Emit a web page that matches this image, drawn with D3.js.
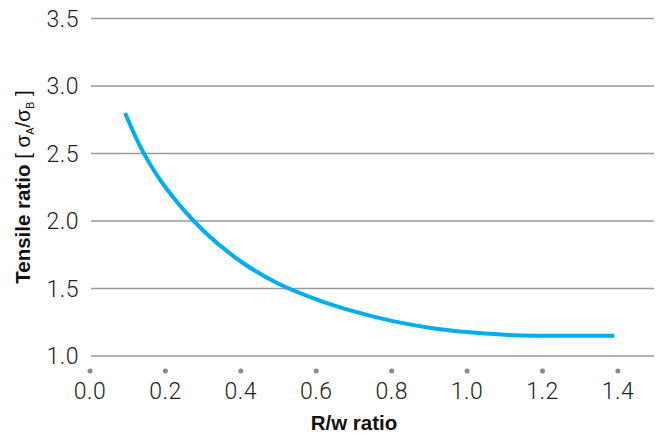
<!DOCTYPE html>
<html>
<head>
<meta charset="utf-8">
<script src="https://cdn.jsdelivr.net/npm/d3@7"></script>
<style>
  html, body { margin: 0; padding: 0; background: #fff; }
  svg { display: block; }
</style>
</head>
<body>
<script>
const xValues = [0.093, 0.141, 0.2, 0.3, 0.4, 0.5, 0.6, 0.7, 0.8, 0.9, 1.0, 1.1, 1.15, 1.2, 1.3, 1.39];
const yValues = [2.80, 2.51, 2.25, 1.93, 1.70, 1.535, 1.42, 1.33, 1.26, 1.21, 1.177, 1.157, 1.152, 1.15, 1.15, 1.15];
const xTicks = [0.0, 0.2, 0.4, 0.6, 0.8, 1.0, 1.2, 1.4];
const yTicks = [1.0, 1.5, 2.0, 2.5, 3.0, 3.5];
const xTitle = "R/w ratio";

const W = 663, H = 434;
const svg = d3.select("body").append("svg").attr("width", W).attr("height", H);

const x = d3.scaleLinear().domain([0, 1.5]).range([90, 655.6]);
const y = d3.scaleLinear().domain([1.0, 3.5]).range([356, 18.5]);

// gridlines
svg.append("g").selectAll("line").data(yTicks).join("line")
  .attr("x1", x(0) + 1).attr("x2", 654)
  .attr("y1", d => y(d)).attr("y2", d => y(d))
  .attr("stroke", "#9a9a9a").attr("stroke-width", 1.5);

// y tick labels
svg.append("g").selectAll("text").data(yTicks).join("text")
  .attr("x", 79).attr("y", d => y(d))
  .attr("dy", "0.36em")
  .attr("text-anchor", "end")
  .attr("font-family", "Roboto, 'Liberation Sans', sans-serif")
  .attr("font-weight", 300)
  .attr("font-size", 23)
  .attr("letter-spacing", 0.5)
  .attr("fill", "#222")
  .text(d => d.toFixed(1));

// x tick dots
svg.append("g").selectAll("circle").data(xTicks).join("circle")
  .attr("cx", d => x(d)).attr("cy", 371).attr("r", 2.5)
  .attr("fill", "#8a8a8a");

// x tick labels
svg.append("g").selectAll("text").data(xTicks).join("text")
  .attr("x", d => x(d)).attr("y", 399)
  .attr("text-anchor", "middle")
  .attr("font-family", "Roboto, 'Liberation Sans', sans-serif")
  .attr("font-weight", 300)
  .attr("font-size", 23)
  .attr("letter-spacing", 0.5)
  .attr("fill", "#222")
  .text(d => d.toFixed(1));

// x title
svg.append("text")
  .attr("x", 354).attr("y", 430)
  .attr("text-anchor", "middle")
  .attr("font-family", "'Liberation Sans', Arial, sans-serif")
  .attr("font-weight", "bold")
  .attr("font-size", 20.5)
  .attr("fill", "#111")
  .text(xTitle);

// y title
const yt = svg.append("text")
  .attr("transform", "translate(30,187) rotate(-90)")
  .attr("text-anchor", "middle")
  .attr("font-family", "'Liberation Sans', Arial, sans-serif")
  .attr("font-size", 20.5)
  .attr("fill", "#111");
yt.append("tspan").attr("font-weight", "bold").text("Tensile ratio ");
yt.append("tspan").text("[ σ");
yt.append("tspan").attr("font-size", 11).attr("dy", 4).text("A");
yt.append("tspan").attr("dy", -4).text("/σ");
yt.append("tspan").attr("font-size", 11).attr("dy", 4).text("B");
yt.append("tspan").attr("dy", -4).text(" ]");

// curve
const data = xValues.map((v, i) => [v, yValues[i]]);
const line = d3.line().x(d => x(d[0])).y(d => y(d[1])).curve(d3.curveCatmullRom.alpha(0.5));
svg.append("path").datum(data)
  .attr("d", line)
  .attr("fill", "none")
  .attr("stroke", "#00aeef")
  .attr("stroke-width", 4)
  .attr("stroke-linecap", "butt");
</script>
</body>
</html>
